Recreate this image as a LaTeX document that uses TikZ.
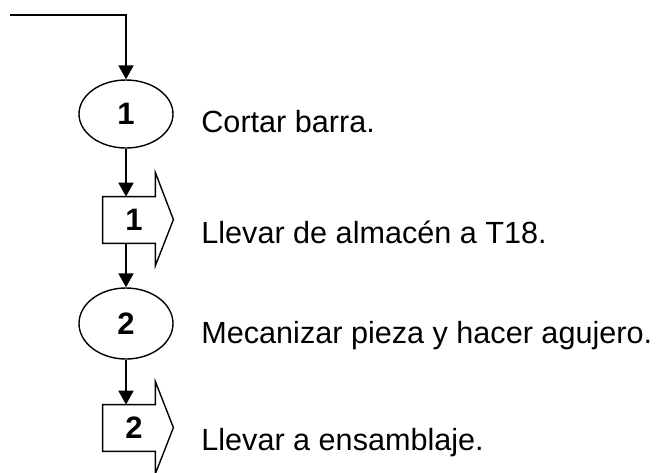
\documentclass[tikz,border=0pt]{standalone}
\usepackage{fontspec}
\setmainfont{Liberation Sans}
\usetikzlibrary{arrows.meta,shapes.geometric}

\begin{document}
\begin{tikzpicture}[x=0.5pt, y=-0.5pt,
  flow/.style={-{Triangle[length=7pt,width=7.5pt]}, line width=1pt},
  opbox/.style={ellipse, draw, line width=0.7pt, minimum width=47pt,
                minimum height=34pt, inner sep=0pt, font=\fontsize{15.5}{17}\selectfont\bfseries},
  trbox/.style={rectangle, minimum width=26pt, minimum height=23pt, inner sep=0pt},
  trline/.style={line width=0.7pt, line join=miter},
  num/.style={font=\fontsize{15.5}{17}\selectfont\bfseries, inner sep=0pt},
  desc/.style={font=\fontsize{15.3}{18}\selectfont, anchor=base west, inner sep=0pt},
]
\useasboundingbox (0,0) rectangle (657,472);

% entry line
\coordinate (start) at (10,15);

% operation 1
\node[opbox] (e1) at (126,114) {1};
\node[desc] (d1) at (201,132) {Cortar barra.};

% transport 1
\node[trbox] (t1) at (129,220) {};
\draw[trline] (t1.south east) -- (t1.south west) -- (t1.north west) -- (t1.north east)
  -- ++(0,-24) -- ++(18,47) -- ++(-18,46) -- cycle;
\node[num] (n1) at (134,220) {1};
\node[desc] (d2) at (201,243) {Llevar de almacén a T18.};

% operation 2
\node[opbox, minimum height=35.5pt] (e2) at (126,323.5) {2};
\node[desc] (d3) at (201,343) {Mecanizar pieza y hacer agujero.};

% transport 2
\node[trbox] (t2) at (129,428) {};
\draw[trline] (t2.south east) -- (t2.south west) -- (t2.north west) -- (t2.north east)
  -- ++(0,-23) -- ++(18,46) -- ++(-18,46) -- cycle;
\node[num] (n2) at (134,428) {2};
\node[desc] (d4) at (201,450) {Llevar a ensamblaje.};

% connectors
\draw[flow] (start) -| (e1.north);
\draw[flow] (e1.south) -- (e1.south |- t1.north);
\draw[flow] (e1.south |- t1.south) -- (e2.north);
\draw[flow] (e2.south) -- (e2.south |- t2.north);

\end{tikzpicture}
\end{document}
